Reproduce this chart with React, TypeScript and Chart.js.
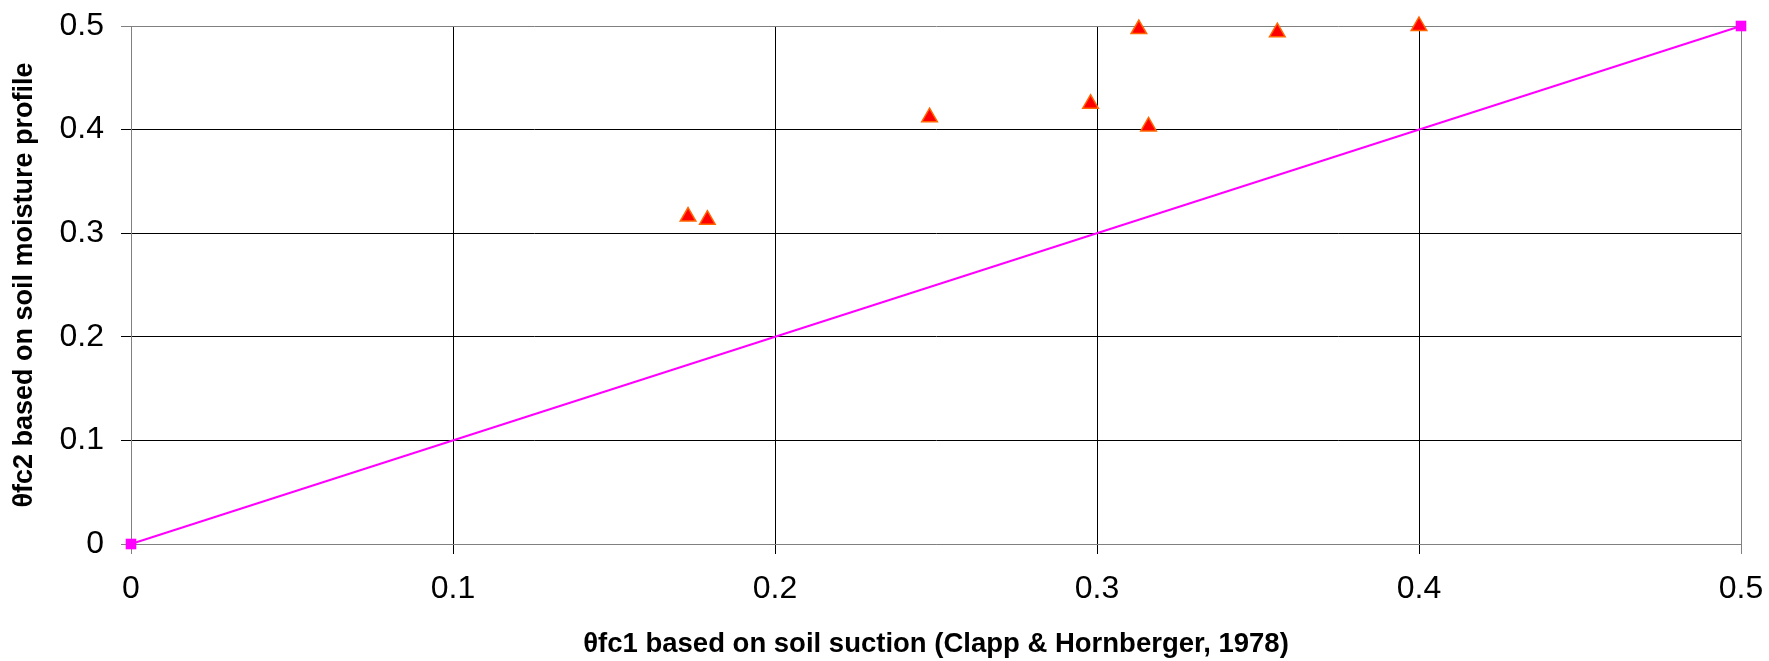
import React, { useEffect, useRef } from "react";
import { Chart, registerables } from "chart.js";

Chart.register(...registerables);

const fc1Values = [0.173, 0.179, 0.248, 0.298, 0.313, 0.316, 0.356, 0.4];
const fc2Values = [0.316, 0.313, 0.412, 0.425, 0.497, 0.403, 0.494, 0.5];
const lineX = [0, 0.5];
const lineY = [0, 0.5];
const tickValues = [0, 0.1, 0.2, 0.3, 0.4, 0.5];
const xTitle = "θfc1 based on soil suction (Clapp & Hornberger, 1978)";
const yTitle = "θfc2 based on soil moisture profile";

export default function App() {
  const ref = useRef<HTMLCanvasElement | null>(null);

  useEffect(() => {
    document.body.style.margin = "0";
    const canvas = ref.current;
    if (!canvas) return;
    const gridColor = (ctx: any) => {
      const v = ctx.tick ? ctx.tick.value : null;
      if (v === 0 || v === 0.5) return "#808080";
      return "#000000";
    };
    const chart = new Chart(canvas, {
      type: "scatter",
      data: {
        datasets: [
          {
            label: "1:1",
            data: lineX.map((x, i) => ({ x, y: lineY[i] })),
            showLine: true,
            borderColor: "#FF00FF",
            backgroundColor: "#FF00FF",
            borderWidth: 2,
            pointStyle: "rect",
            pointRadius: 7.5,
            pointBorderWidth: 0,
            clip: false,
          } as any,
          {
            label: "θfc",
            data: fc1Values.map((x, i) => ({ x, y: fc2Values[i] })),
            backgroundColor: "#FF0000",
            borderColor: "#FF6600",
            pointStyle: "triangle",
            pointRadius: 9,
            pointBorderWidth: 1.5,
            clip: false,
          } as any,
        ],
      },
      options: {
        responsive: false,
        animation: false,
        devicePixelRatio: 1,
        layout: { autoPadding: false, padding: { top: 26, right: 28, left: 0, bottom: 0 } },
        plugins: { legend: { display: false }, tooltip: { enabled: false } },
        scales: {
          x: {
            type: "linear",
            min: 0,
            max: 0.5,
            afterBuildTicks: (s: any) => {
              s.ticks = tickValues.map((v) => ({ value: v }));
            },
            afterFit: (s: any) => {
              s.height = 117;
              s.paddingLeft = 0;
              s.paddingRight = 0;
            },
            ticks: {
              color: "#000",
              font: { family: "'Liberation Sans', Arial, sans-serif", size: 32 },
              padding: 16,
              maxRotation: 0,
              callback: (v: any) => String(v),
            },
            grid: {
              color: gridColor,
              lineWidth: 1,
              tickLength: 10,
              drawTicks: true,
            },
            border: { color: "#808080", width: 1 },
            title: {
              display: true,
              text: xTitle,
              color: "#000",
              font: { family: "'Liberation Sans', Arial, sans-serif", size: 27.5, weight: "bold" },
              padding: { top: 0, bottom: 0 },
            },
          },
          y: {
            type: "linear",
            min: 0,
            max: 0.5,
            afterBuildTicks: (s: any) => {
              s.ticks = tickValues.map((v) => ({ value: v }));
            },
            afterFit: (s: any) => {
              s.width = 131;
              s.paddingTop = 0;
              s.paddingBottom = 0;
            },
            ticks: {
              color: "#000",
              font: { family: "'Liberation Sans', Arial, sans-serif", size: 32 },
              padding: 17,
              callback: (v: any) => String(v),
            },
            grid: {
              color: gridColor,
              lineWidth: 1,
              tickLength: 10,
              drawTicks: true,
            },
            border: { color: "#808080", width: 1 },
            title: {
              display: true,
              text: yTitle,
              color: "#000",
              font: { family: "'Liberation Sans', Arial, sans-serif", size: 27, weight: "bold" },
              padding: { top: 8, bottom: 0 },
            },
          },
        },
      },
    });
    return () => chart.destroy();
  }, []);

  return (
    <div style={{ width: 1769, height: 661, background: "#fff" }}>
      <canvas ref={ref} width={1769} height={661} style={{ width: 1769, height: 661, display: "block" }} />
    </div>
  );
}
